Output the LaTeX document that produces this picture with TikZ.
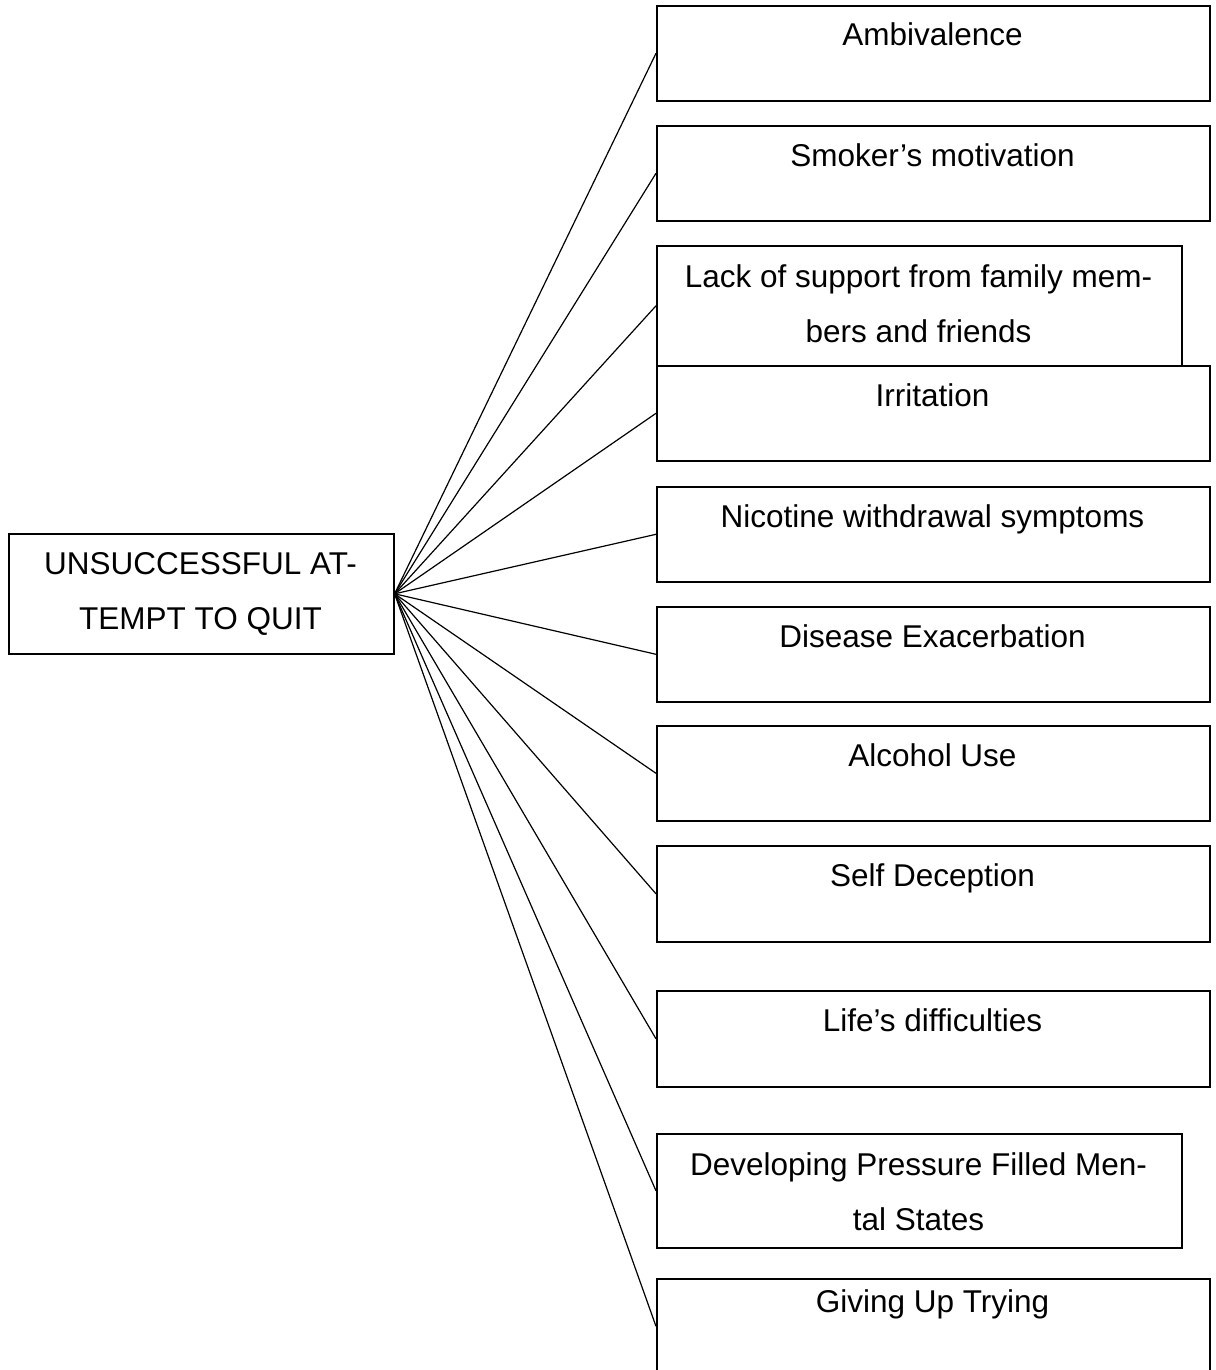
\documentclass[tikz,border=0pt]{standalone}
\usepackage{fontspec}
\setmainfont{Liberation Sans}
\begin{document}
\begin{tikzpicture}[x=1pt,y=-1pt,
  box/.style={draw, line width=1.6pt, inner sep=0pt, anchor=north west},
  txt/.style={anchor=base, inner sep=0pt, font=\fontsize{31.5}{38}\selectfont},
  link/.style={line width=1.2pt}]
\clip (0,0) rectangle (1215,1370);
% root
\node[box, minimum width=385pt, minimum height=120pt] (root) at (8,533) {};
\node[txt] (roota) at (200.5,574) {UNSUCCESSFUL AT-};
\node[txt] (rootb) at (200.5,629) {TEMPT TO QUIT};
% boxes
\node[box, minimum width=553pt, minimum height=95pt] (b1) at (656,5) {};
\node[txt] (t1) at (932.5,46) {Ambivalence};
\node[box, minimum width=553pt, minimum height=95pt] (b2) at (656,125) {};
\node[txt] (t2) at (932.5,166) {Smoker’s motivation};
\node[box, minimum width=525pt, minimum height=120pt] (b3) at (656,245) {};
\node[txt] (t3a) at (918.5,287) {Lack of support from family mem-};
\node[txt] (t3b) at (918.5,342) {bers and friends};
\node[box, minimum width=553pt, minimum height=95pt] (b4) at (656,365) {};
\node[txt] (t4) at (932.5,406) {Irritation};
\node[box, minimum width=553pt, minimum height=95pt] (b5) at (656,486) {};
\node[txt] (t5) at (932.5,527) {Nicotine withdrawal symptoms};
\node[box, minimum width=553pt, minimum height=95pt] (b6) at (656,606) {};
\node[txt] (t6) at (932.5,647) {Disease Exacerbation};
\node[box, minimum width=553pt, minimum height=95pt] (b7) at (656,725) {};
\node[txt] (t7) at (932.5,766) {Alcohol Use};
\node[box, minimum width=553pt, minimum height=96pt] (b8) at (656,845) {};
\node[txt] (t8) at (932.5,886) {Self Deception};
\node[box, minimum width=553pt, minimum height=96pt] (b9) at (656,990) {};
\node[txt] (t9) at (932.5,1031) {Life’s difficulties};
\node[box, minimum width=525pt, minimum height=114pt] (b10) at (656,1133) {};
\node[txt] (t10a) at (918.5,1175) {Developing Pressure Filled Men-};
\node[txt] (t10b) at (918.5,1230) {tal States};
\node[box, minimum width=553pt, minimum height=95pt] (b11) at (656,1278) {};
\node[txt] (t11) at (932.5,1312) {Giving Up Trying};
% connectors
\foreach \b in {b1,b2,b3,b4,b5,b6,b7,b8,b9,b10,b11}
  \draw[link] (root.east) -- (\b.west);
\end{tikzpicture}
\end{document}
